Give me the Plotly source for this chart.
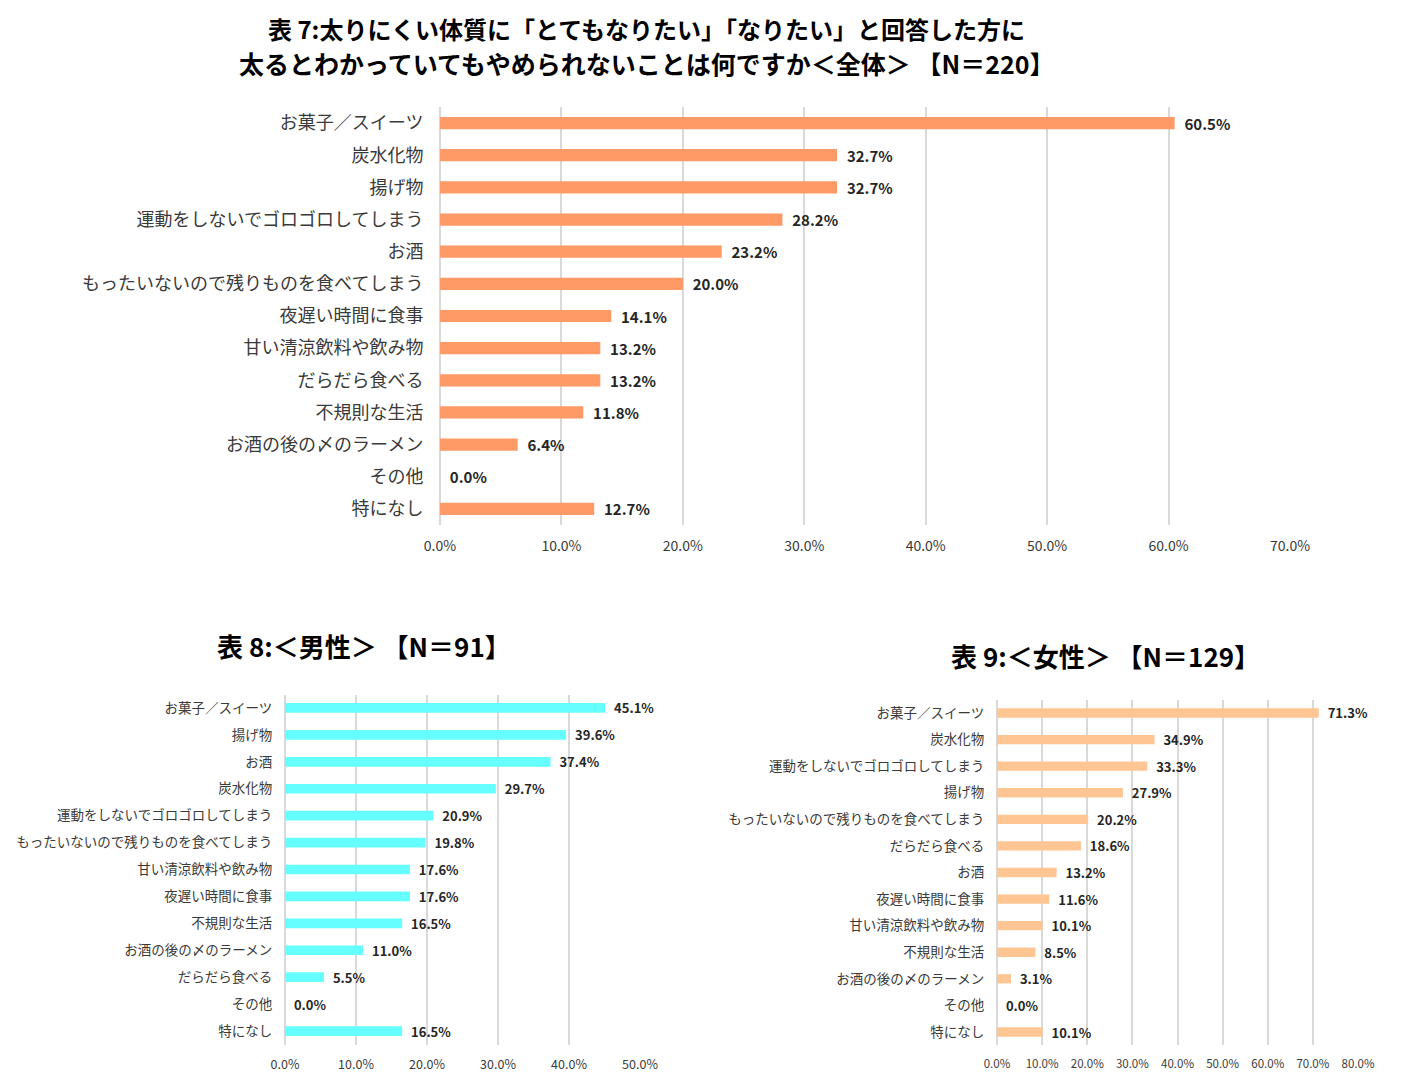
import plotly.graph_objects as go

# ---------------- data ----------------
cats_all = ["お菓子／スイーツ", "炭水化物", "揚げ物", "運動をしないでゴロゴロしてしまう", "お酒",
            "もったいないので残りものを食べてしまう", "夜遅い時間に食事", "甘い清涼飲料や飲み物",
            "だらだら食べる", "不規則な生活", "お酒の後の〆のラーメン", "その他", "特になし"]
vals_all = [60.5, 32.7, 32.7, 28.2, 23.2, 20.0, 14.1, 13.2, 13.2, 11.8, 6.4, 0.0, 12.7]

cats_male = ["お菓子／スイーツ", "揚げ物", "お酒", "炭水化物", "運動をしないでゴロゴロしてしまう",
             "もったいないので残りものを食べてしまう", "甘い清涼飲料や飲み物", "夜遅い時間に食事",
             "不規則な生活", "お酒の後の〆のラーメン", "だらだら食べる", "その他", "特になし"]
vals_male = [45.1, 39.6, 37.4, 29.7, 20.9, 19.8, 17.6, 17.6, 16.5, 11.0, 5.5, 0.0, 16.5]

cats_female = ["お菓子／スイーツ", "炭水化物", "運動をしないでゴロゴロしてしまう", "揚げ物",
               "もったいないので残りものを食べてしまう", "だらだら食べる", "お酒", "夜遅い時間に食事",
               "甘い清涼飲料や飲み物", "不規則な生活", "お酒の後の〆のラーメン", "その他", "特になし"]
vals_female = [71.3, 34.9, 33.3, 27.9, 20.2, 18.6, 13.2, 11.6, 10.1, 8.5, 3.1, 0.0, 10.1]

title_all = ["表 7:太りにくい体質に「とてもなりたい」「なりたい」と回答した方に",
             "太るとわかっていてもやめられないことは何ですか＜全体＞ 【N＝220】"]
title_male = "表 8:＜男性＞ 【N＝91】"
title_female = "表 9:＜女性＞ 【N＝129】"

# ---------------- layout helpers ----------------
OFF = 8                      # default page body margin
W, H = 1406 - 2 * OFF, 1087 - 2 * OFF
FONT = "Noto Sans CJK JP, Noto Sans, sans-serif"
GRID = "#D9D9D9"
TXT = "#3A3A3A"
VAL = "#262626"


def px_x(x):
    return (x - OFF) / W


def px_y(y):
    return 1 - (y - OFF) / H


fig = go.Figure()

panels = [
    # cats, vals, color, axis id, xdom px, ydom px (top, bottom), xmax, label size, value size, tick size, bar width, ticklen
    (cats_all, vals_all, "#FF9966", "", (440, 1290), (107, 525), 70, 18, 15, 14, 0.38, 12),
    (cats_male, vals_male, "#66FFFF", "2", (285, 640), (694.5, 1044.5), 50, 13.5, 13, 12.5, 0.36, 9),
    (cats_female, vals_female, "#FFC592", "3", (997, 1358), (699.7, 1045.3), 80, 13.5, 13, 11.5, 0.35, 9),
]

for cats, vals, color, ax, xd, yd, xmax, lsz, vsz, tsz, bw, tl in panels:
    fig.add_trace(go.Bar(
        y=cats, x=vals, orientation="h",
        marker=dict(color=color, line=dict(width=0)),
        width=bw,
        text=[f"  {v:.1f}%" for v in vals],
        textposition="outside",
        constraintext="none",
        textfont=dict(family=FONT, size=vsz, color=VAL, weight="bold"),
        cliponaxis=False,
        xaxis="x" + ax, yaxis="y" + ax,
        showlegend=False,
    ))
    xa = dict(
        domain=[px_x(xd[0]), px_x(xd[1])],
        range=[0, xmax], dtick=10, tick0=0,
        showgrid=True, gridcolor=GRID, gridwidth=1.5,
        zeroline=True, zerolinecolor=GRID, zerolinewidth=1.5,
        showline=False,
        tickformat=".1f", ticksuffix="%",
        tickfont=dict(family=FONT, size=tsz, color=TXT),
        ticks="outside", ticklen=8, tickcolor="rgba(0,0,0,0)",
        anchor="y" + ax, fixedrange=True, automargin=False,
    )
    ya = dict(
        domain=[px_y(yd[1]), px_y(yd[0])],
        type="category", categoryorder="array", categoryarray=cats,
        range=[12.5, -0.5],
        showgrid=False, zeroline=False, showline=False,
        tickfont=dict(family=FONT, size=lsz, color=TXT),
        ticks="outside", ticklen=tl, tickcolor="rgba(0,0,0,0)",
        anchor="x" + ax, fixedrange=True, automargin=False,
    )
    fig.update_layout(**{"xaxis" + ax: xa, "yaxis" + ax: ya})

annos = [
    dict(text="<b>" + title_all[0] + "</b>", x=px_x(646), y=px_y(28), size=24),
    dict(text="<b>" + title_all[1] + "</b>", x=px_x(646), y=px_y(63), size=25),
    dict(text="<b>" + title_male + "</b>", x=px_x(364), y=px_y(645), size=26),
    dict(text="<b>" + title_female + "</b>", x=px_x(1105), y=px_y(655), size=26),
]
for a in annos:
    fig.add_annotation(text=a["text"], x=a["x"], y=a["y"], xref="paper", yref="paper",
                       xanchor="center", yanchor="middle", showarrow=False,
                       font=dict(family=FONT, size=a["size"], color="#000000"))

fig.update_layout(
    width=W, height=H,
    margin=dict(l=0, r=0, t=0, b=0),
    paper_bgcolor="white", plot_bgcolor="white",
    font=dict(family=FONT, color=TXT),
)

fig.write_html("out.html")
